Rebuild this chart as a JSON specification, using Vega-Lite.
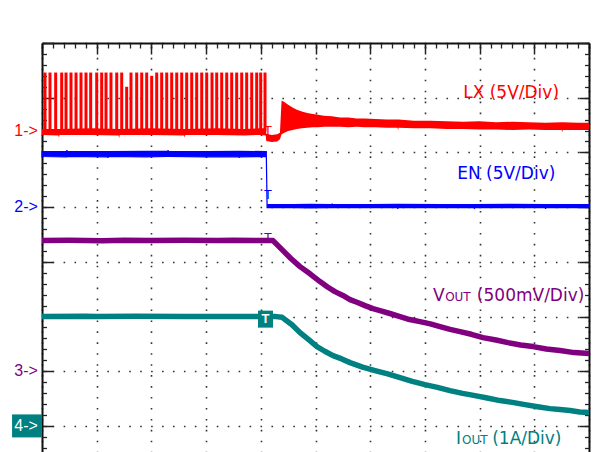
{
  "$schema": "https://vega.github.io/schema/vega-lite/v6.json",
  "width": 547,
  "height": 409,
  "autosize": {"type": "none"},
  "padding": {"left": 42, "top": 43, "right": 9, "bottom": 0},
  "background": "white",
  "config": {"view": {"stroke": null}},
  "datasets": {
    "lxband": [
      {"t":0,"hi":6.43,"lo":6.32},{"t":0.3,"hi":6.43,"lo":6.31},{"t":0.31,"hi":6.43,"lo":6.27},{"t":0.32,"hi":6.43,"lo":6.32},
      {"t":0.9,"hi":6.44,"lo":6.32},{"t":1.4,"hi":6.43,"lo":6.31},{"t":1.41,"hi":6.43,"lo":6.26},{"t":1.42,"hi":6.43,"lo":6.32},
      {"t":2.0,"hi":6.44,"lo":6.32},{"t":2.6,"hi":6.43,"lo":6.31},{"t":2.61,"hi":6.43,"lo":6.27},{"t":2.62,"hi":6.43,"lo":6.32},
      {"t":3.2,"hi":6.44,"lo":6.32},{"t":3.7,"hi":6.43,"lo":6.31},{"t":4.0,"hi":6.44,"lo":6.32},{"t":4.09,"hi":6.44,"lo":6.31},
      {"t":4.1,"hi":6.34,"lo":6.21},{"t":4.2,"hi":6.32,"lo":6.19},{"t":4.3,"hi":6.33,"lo":6.2},{"t":4.35,"hi":6.36,"lo":6.24},
      {"t":4.38,"hi":6.95,"lo":6.33},{"t":4.43,"hi":6.92,"lo":6.36},{"t":4.5,"hi":6.87,"lo":6.39},{"t":4.58,"hi":6.82,"lo":6.41},
      {"t":4.66,"hi":6.78,"lo":6.43},{"t":4.75,"hi":6.75,"lo":6.44},{"t":4.85,"hi":6.72,"lo":6.45},{"t":4.95,"hi":6.7,"lo":6.46},
      {"t":5.05,"hi":6.69,"lo":6.46},{"t":5.15,"hi":6.67,"lo":6.47},{"t":5.3,"hi":6.66,"lo":6.47},{"t":5.45,"hi":6.64,"lo":6.47},
      {"t":5.6,"hi":6.64,"lo":6.46},{"t":5.75,"hi":6.62,"lo":6.47},{"t":5.9,"hi":6.62,"lo":6.46},{"t":6.1,"hi":6.61,"lo":6.46},
      {"t":6.3,"hi":6.6,"lo":6.45},{"t":6.5,"hi":6.6,"lo":6.45},{"t":6.51,"hi":6.6,"lo":6.41},{"t":6.52,"hi":6.6,"lo":6.45},
      {"t":6.8,"hi":6.58,"lo":6.44},{"t":7.1,"hi":6.58,"lo":6.44},{"t":7.4,"hi":6.57,"lo":6.43},{"t":7.7,"hi":6.56,"lo":6.43},
      {"t":8.0,"hi":6.57,"lo":6.42},{"t":8.3,"hi":6.55,"lo":6.42},{"t":8.6,"hi":6.56,"lo":6.41},{"t":8.9,"hi":6.55,"lo":6.42},
      {"t":9.2,"hi":6.54,"lo":6.41},{"t":9.5,"hi":6.55,"lo":6.41},{"t":9.51,"hi":6.55,"lo":6.37},{"t":9.52,"hi":6.55,"lo":6.41},
      {"t":9.8,"hi":6.54,"lo":6.41},{"t":10,"hi":6.54,"lo":6.41}
    ],
    "lxpulse": [
      {"t":0.055,"hi":7.46},{"t":0.146,"hi":7.46},{"t":0.25,"hi":7.46},{"t":0.36,"hi":7.46},{"t":0.439,"hi":7.46},
      {"t":0.53,"hi":7.46},{"t":0.622,"hi":7.46},{"t":0.713,"hi":7.46},{"t":0.804,"hi":7.46},{"t":0.89,"hi":7.46},
      {"t":1.0,"hi":7.46},{"t":1.091,"hi":7.46},{"t":1.17,"hi":7.46},{"t":1.261,"hi":7.46},{"t":1.366,"hi":7.46},
      {"t":1.457,"hi":7.46},{"t":1.548,"hi":7.2},{"t":1.627,"hi":7.46},{"t":1.731,"hi":7.46},{"t":1.823,"hi":7.46},
      {"t":1.914,"hi":7.46},{"t":2.005,"hi":7.4},{"t":2.097,"hi":7.46},{"t":2.188,"hi":7.46},{"t":2.28,"hi":7.46},
      {"t":2.371,"hi":7.46},{"t":2.463,"hi":7.46},{"t":2.554,"hi":7.46},{"t":2.645,"hi":7.46},{"t":2.737,"hi":7.46},
      {"t":2.828,"hi":7.46},{"t":2.92,"hi":7.46},{"t":3.011,"hi":7.46},{"t":3.108,"hi":7.46},{"t":3.194,"hi":7.46},
      {"t":3.285,"hi":7.46},{"t":3.377,"hi":7.46},{"t":3.468,"hi":7.46},{"t":3.559,"hi":7.46},{"t":3.651,"hi":7.46},
      {"t":3.742,"hi":7.46},{"t":3.834,"hi":7.46},{"t":3.925,"hi":7.46},{"t":3.998,"hi":7.46},{"t":4.077,"hi":7.46}
    ],
    "en": [
      {"t":0,"hi":6.015,"lo":5.925},{"t":0.45,"hi":6.02,"lo":5.92},{"t":0.455,"hi":6.04,"lo":5.92},{"t":0.46,"hi":6.02,"lo":5.925},
      {"t":1.2,"hi":6.015,"lo":5.92},{"t":1.205,"hi":6.015,"lo":5.9},{"t":1.21,"hi":6.015,"lo":5.925},{"t":1.9,"hi":6.02,"lo":5.92},
      {"t":2.3,"hi":6.02,"lo":5.925},{"t":2.305,"hi":6.04,"lo":5.925},{"t":2.31,"hi":6.02,"lo":5.925},{"t":3.0,"hi":6.015,"lo":5.92},
      {"t":3.6,"hi":6.02,"lo":5.92},{"t":3.605,"hi":6.02,"lo":5.9},{"t":3.61,"hi":6.02,"lo":5.92},{"t":4.09,"hi":6.015,"lo":5.925},
      {"t":4.1,"hi":6.015,"lo":6.0},{"t":4.115,"hi":5.045,"lo":4.99},{"t":4.6,"hi":5.045,"lo":4.99},{"t":4.9,"hi":5.05,"lo":4.985},
      {"t":5.3,"hi":5.045,"lo":4.99},{"t":5.305,"hi":5.065,"lo":4.99},{"t":5.31,"hi":5.045,"lo":4.99},{"t":6.0,"hi":5.045,"lo":4.99},
      {"t":6.5,"hi":5.05,"lo":4.99},{"t":6.505,"hi":5.05,"lo":4.97},{"t":6.51,"hi":5.05,"lo":4.99},{"t":7.3,"hi":5.045,"lo":4.99},
      {"t":7.9,"hi":5.045,"lo":4.99},{"t":7.905,"hi":5.045,"lo":4.97},{"t":7.91,"hi":5.045,"lo":4.99},{"t":8.6,"hi":5.05,"lo":4.99},
      {"t":9.2,"hi":5.045,"lo":4.99},{"t":9.205,"hi":5.045,"lo":4.97},{"t":9.21,"hi":5.045,"lo":4.99},{"t":10,"hi":5.045,"lo":4.99}
    ],
    "vout": [
      {"t":0,"v":4.388},{"t":0.5,"v":4.392},{"t":1.1,"v":4.385},{"t":1.5,"v":4.392},{"t":2.0,"v":4.388},{"t":2.6,"v":4.392},
      {"t":3.2,"v":4.388},{"t":3.5,"v":4.392},{"t":3.9,"v":4.388},{"t":4.223,"v":4.388},
      {"t":4.406,"v":4.205},{"t":4.55,"v":4.06},{"t":4.717,"v":3.912},{"t":4.9,"v":3.78},{"t":5.082,"v":3.638},{"t":5.22,"v":3.54},
      {"t":5.356,"v":3.455},{"t":5.5,"v":3.385},{"t":5.631,"v":3.309},{"t":5.77,"v":3.255},{"t":5.905,"v":3.199},{"t":6.05,"v":3.145},
      {"t":6.179,"v":3.108},{"t":6.36,"v":3.055},{"t":6.545,"v":2.998},{"t":6.72,"v":2.945},{"t":6.91,"v":2.907},{"t":7.1,"v":2.865},
      {"t":7.276,"v":2.815},{"t":7.46,"v":2.765},{"t":7.642,"v":2.724},{"t":7.85,"v":2.675},{"t":8.062,"v":2.614},{"t":8.3,"v":2.57},
      {"t":8.519,"v":2.523},{"t":8.75,"v":2.48},{"t":8.976,"v":2.45},{"t":9.22,"v":2.405},{"t":9.47,"v":2.377},{"t":9.73,"v":2.34},
      {"t":10,"v":2.322}
    ],
    "iout": [
      {"t":0,"v":3.0},{"t":0.8,"v":3.003},{"t":1.0,"v":2.998},{"t":1.7,"v":3.003},{"t":2.6,"v":2.998},{"t":3.4,"v":3.0},
      {"t":4.278,"v":2.998},{"t":4.39,"v":2.985},{"t":4.57,"v":2.85},{"t":4.717,"v":2.705},{"t":4.87,"v":2.58},{"t":5.027,"v":2.45},
      {"t":5.17,"v":2.365},{"t":5.32,"v":2.285},{"t":5.48,"v":2.225},{"t":5.631,"v":2.157},{"t":5.86,"v":2.075},{"t":6.088,"v":2.011},
      {"t":6.32,"v":1.95},{"t":6.545,"v":1.883},{"t":6.77,"v":1.815},{"t":7.002,"v":1.755},{"t":7.23,"v":1.705},{"t":7.459,"v":1.645},
      {"t":7.69,"v":1.595},{"t":7.916,"v":1.554},{"t":8.14,"v":1.51},{"t":8.373,"v":1.463},{"t":8.6,"v":1.43},{"t":8.83,"v":1.389},
      {"t":9.06,"v":1.35},{"t":9.287,"v":1.316},{"t":9.47,"v":1.3},{"t":9.653,"v":1.28},{"t":9.83,"v":1.255},{"t":10,"v":1.243}
    ],
    "trig": [
      {"ch":"LX","t":4.13,"v":6.4},
      {"ch":"EN","t":4.13,"v":5.22},
      {"ch":"VOUT","t":4.13,"v":4.44}
    ],
    "tbox": [{"ch":"IOUT","t":4.086,"v":2.952}],
    "markers": [
      {"ch":"LX","label":"1->","v":6.4},
      {"ch":"EN","label":"2->","v":5.0},
      {"ch":"VOUT","label":"3->","v":2.0},
      {"ch":"IOUT","label":"4->","v":1.0}
    ],
    "titles": [
      {"ch":"LX","part":"main","text":"LX (5V/Div)","t":7.7,"v":7.0},
      {"ch":"EN","part":"main","text":"EN (5V/Div)","t":7.59,"v":5.52},
      {"ch":"VOUT","part":"main","text":"V","t":7.15,"v":3.29},
      {"ch":"VOUT","part":"sub","text":"OUT","t":7.37,"v":3.285},
      {"ch":"VOUT","part":"main","text":"(500mV/Div)","t":7.95,"v":3.29},
      {"ch":"IOUT","part":"main","text":"I","t":7.57,"v":0.676},
      {"ch":"IOUT","part":"sub","text":"OUT","t":7.68,"v":0.67},
      {"ch":"IOUT","part":"main","text":"(1A/Div)","t":8.23,"v":0.676}
    ]
  },
  "layer": [
    {
      "data": {"name": "lxband"},
      "mark": {"type": "area", "color": "#ff0000"},
      "encoding": {
        "x": {"field": "t", "type": "quantitative", "scale": {"domain": [0, 10], "nice": false, "zero": false},
          "axis": {"orient": "top", "values": [0,1,2,3,4,5,6,7,8,9,10], "tickSize": -11, "tickWidth": 1.5, "tickColor": "#222222",
            "labels": false, "title": null, "domain": true, "domainColor": "#111111", "domainWidth": 2,
            "grid": true, "gridColor": "#333333", "gridWidth": 1.6, "gridDash": [1.6, 9.34], "gridDashOffset": 0.8, "gridOpacity": 1}},
        "y": {"field": "hi", "type": "quantitative", "scale": {"domain": [0.523, 8], "nice": false, "zero": false},
          "axis": {"orient": "left", "values": [1,2,3,4,5,6,7,8], "tickSize": -11, "tickWidth": 1.5, "tickColor": "#222222",
            "labels": false, "title": null, "domain": true, "domainColor": "#111111", "domainWidth": 2,
            "grid": true, "gridColor": "#333333", "gridWidth": 1.6, "gridDash": [1.6, 9.34], "gridDashOffset": 0.8, "gridOpacity": 1}},
        "y2": {"field": "lo"}
      }
    },
    {
      "data": {"name": "lxpulse"},
      "mark": {"type": "rule", "color": "#ff0000", "strokeWidth": 3},
      "encoding": {
        "x": {"field": "t", "type": "quantitative",
          "axis": {"orient": "top", "values": [0,0.2,0.4,0.6,0.8,1,1.2,1.4,1.6,1.8,2,2.2,2.4,2.6,2.8,3,3.2,3.4,3.6,3.8,4,4.2,4.4,4.6,4.8,5,5.2,5.4,5.6,5.8,6,6.2,6.4,6.6,6.8,7,7.2,7.4,7.6,7.8,8,8.2,8.4,8.6,8.8,9,9.2,9.4,9.6,9.8,10],
            "tickSize": -5, "tickWidth": 1.3, "tickColor": "#222222", "labels": false, "title": null, "domain": false, "grid": false}},
        "y": {"field": "hi", "type": "quantitative",
          "axis": {"orient": "left", "values": [0.6,0.8,1,1.2,1.4,1.6,1.8,2,2.2,2.4,2.6,2.8,3,3.2,3.4,3.6,3.8,4,4.2,4.4,4.6,4.8,5,5.2,5.4,5.6,5.8,6,6.2,6.4,6.6,6.8,7,7.2,7.4,7.6,7.8,8],
            "tickSize": -4.5, "tickWidth": 1.3, "tickColor": "#222222", "labels": false, "title": null, "domain": false, "grid": false}},
        "y2": {"datum": 6.38}
      }
    },
    {
      "data": {"name": "en"},
      "mark": {"type": "area", "color": "#0000ff", "stroke": "#0000ff", "strokeWidth": 1.2},
      "encoding": {
        "x": {"field": "t", "type": "quantitative", "axis": null},
        "y": {"field": "hi", "type": "quantitative",
          "axis": {"orient": "right", "values": [1,2,3,4,5,6,7,8], "tickSize": -10, "tickWidth": 1.5, "tickColor": "#222222",
            "labels": false, "title": null, "domain": true, "domainColor": "#111111", "domainWidth": 2, "grid": false}},
        "y2": {"field": "lo"}
      }
    },
    {
      "data": {"name": "vout"},
      "mark": {"type": "line", "color": "#800080", "strokeWidth": 5.5, "strokeJoin": "round"},
      "encoding": {
        "x": {"field": "t", "type": "quantitative", "axis": null},
        "y": {"field": "v", "type": "quantitative",
          "axis": {"orient": "right", "values": [0.6,0.8,1,1.2,1.4,1.6,1.8,2,2.2,2.4,2.6,2.8,3,3.2,3.4,3.6,3.8,4,4.2,4.4,4.6,4.8,5,5.2,5.4,5.6,5.8,6,6.2,6.4,6.6,6.8,7,7.2,7.4,7.6,7.8,8],
            "tickSize": -4.5, "tickWidth": 1.3, "tickColor": "#222222", "labels": false, "title": null, "domain": false, "grid": false}}
      }
    },
    {
      "data": {"name": "iout"},
      "mark": {"type": "line", "color": "#008080", "strokeWidth": 5.5, "strokeJoin": "round"},
      "encoding": {
        "x": {"field": "t", "type": "quantitative", "axis": null},
        "y": {"field": "v", "type": "quantitative", "axis": null}
      }
    },
    {
      "data": {"name": "trig"},
      "mark": {"type": "text", "text": "T", "font": "Liberation Sans", "fontSize": 13, "baseline": "middle", "align": "center"},
      "encoding": {
        "x": {"field": "t", "type": "quantitative", "axis": null},
        "y": {"field": "v", "type": "quantitative", "axis": null},
        "color": {"field": "ch", "type": "nominal", "legend": null,
          "scale": {"domain": ["LX", "EN", "VOUT", "IOUT"], "range": ["#ff0000", "#0000ff", "#800080", "#008080"]}}
      }
    },
    {
      "data": {"name": "tbox"},
      "mark": {"type": "point", "shape": "M-0.88,-1H0.88V1H-0.88Z", "size": 289, "filled": true, "color": "#008080", "opacity": 1},
      "encoding": {
        "x": {"field": "t", "type": "quantitative", "axis": null},
        "y": {"field": "v", "type": "quantitative", "axis": null}
      }
    },
    {
      "data": {"name": "tbox"},
      "mark": {"type": "text", "text": "T", "font": "Liberation Sans", "fontSize": 13, "fontWeight": "bold", "color": "white", "baseline": "middle", "align": "center"},
      "encoding": {
        "x": {"field": "t", "type": "quantitative", "axis": null},
        "y": {"field": "v", "type": "quantitative", "axis": null}
      }
    },
    {
      "data": {"name": "markers"},
      "transform": [{"filter": "datum.ch === 'IOUT'"}],
      "mark": {"type": "point", "shape": "M-1.3,-1H1.3V1H-1.3Z", "size": 529, "filled": true, "color": "#008080", "opacity": 1},
      "encoding": {
        "x": {"datum": -0.274, "axis": null},
        "y": {"field": "v", "type": "quantitative", "axis": null}
      }
    },
    {
      "data": {"name": "markers"},
      "mark": {"type": "text", "font": "Liberation Sans", "fontSize": 16, "baseline": "middle", "align": "center"},
      "encoding": {
        "x": {"datum": -0.29, "axis": null},
        "y": {"field": "v", "type": "quantitative", "axis": null},
        "text": {"field": "label"},
        "color": {"condition": {"test": "datum.ch === 'IOUT'", "value": "white"}, "field": "ch", "type": "nominal", "legend": null}
      }
    },
    {
      "data": {"name": "titles"},
      "transform": [{"filter": "datum.part === 'main'"}],
      "mark": {"type": "text", "font": "DejaVu Sans", "fontSize": 17, "baseline": "alphabetic", "align": "left"},
      "encoding": {
        "x": {"field": "t", "type": "quantitative", "axis": null},
        "y": {"field": "v", "type": "quantitative", "axis": null},
        "text": {"field": "text"},
        "color": {"field": "ch", "type": "nominal", "legend": null}
      }
    },
    {
      "data": {"name": "titles"},
      "transform": [{"filter": "datum.part === 'sub'"}],
      "mark": {"type": "text", "font": "DejaVu Sans", "fontSize": 12, "baseline": "alphabetic", "align": "left"},
      "encoding": {
        "x": {"field": "t", "type": "quantitative", "axis": null},
        "y": {"field": "v", "type": "quantitative", "axis": null},
        "text": {"field": "text"},
        "color": {"field": "ch", "type": "nominal", "legend": null}
      }
    },
    {
      "mark": {"type": "rule", "color": "#1a8a8a", "strokeWidth": 1.6},
      "encoding": {
        "x": {"datum": 2.505, "axis": null},
        "x2": {"datum": 7.514},
        "y": {"datum": 8.177, "axis": null}
      }
    },
    {
      "mark": {"type": "text", "text": "[", "font": "DejaVu Sans", "fontSize": 13, "color": "#111111", "baseline": "middle", "align": "center"},
      "encoding": {
        "x": {"datum": 2.54, "axis": null},
        "y": {"datum": 8.18, "axis": null}
      }
    },
    {
      "mark": {"type": "text", "text": "]", "font": "DejaVu Sans", "fontSize": 13, "fontWeight": "bold", "color": "#111111", "baseline": "middle", "align": "center"},
      "encoding": {
        "x": {"datum": 7.49, "axis": null},
        "y": {"datum": 8.18, "axis": null}
      }
    },
    {
      "mark": {"type": "text", "text": "T", "font": "Liberation Sans", "fontSize": 15, "color": "#1a8a8a", "baseline": "middle", "align": "center"},
      "encoding": {
        "x": {"datum": 4.516, "axis": null},
        "y": {"datum": 8.19, "axis": null}
      }
    }
  ],
  "resolve": {"axis": {"x": "independent", "y": "independent"}}
}
